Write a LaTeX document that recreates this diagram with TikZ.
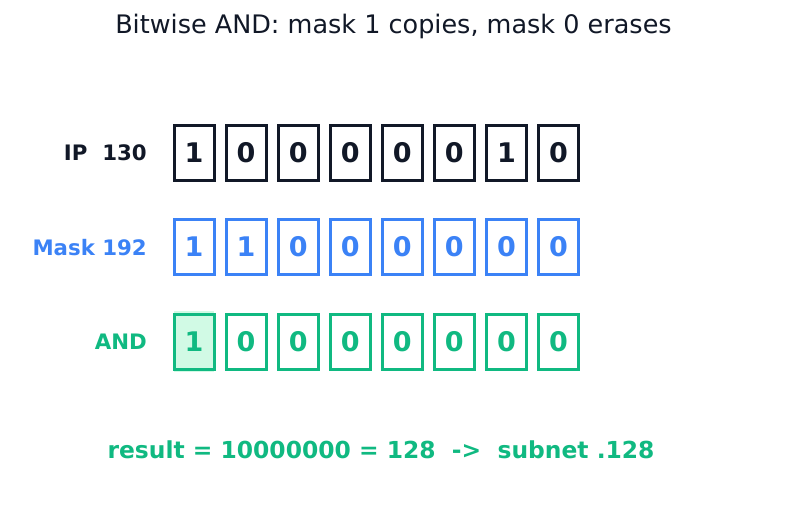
\documentclass[tikz,border=0pt]{standalone}
\usepackage{fontspec}
\setmainfont{DejaVu Sans}
\usepackage{xcolor}
\usetikzlibrary{positioning}
\definecolor{cIp}{RGB}{17,24,39}
\definecolor{cMask}{RGB}{59,130,246}
\definecolor{cAnd}{RGB}{16,185,129}
\definecolor{cAndFill}{RGB}{209,250,229}

\begin{document}
\begin{tikzpicture}[
   x=1pt,y=-1pt,
   bit/.style={draw,line width=3pt,minimum width=40pt,minimum height=55pt,inner sep=0pt,
     font=\fontsize{27}{31}\selectfont\bfseries},
   lbl/.style={anchor=east,inner sep=0pt,font=\fontsize{21.3}{25}\selectfont\bfseries}]
  \useasboundingbox (0,0) rectangle (787,512);
  \node[text=cIp] (title) at (393.5,26) {\fontsize{25.5}{30}\selectfont Bitwise AND: mask 1 copies, mask 0 erases};
  % row labels
  \node[lbl,text=cIp] (lip) at (147,153) {IP\ \ 130};
  \node[lbl,text=cMask] (lmask) at (147,247.5) {Mask 192};
  \node[lbl,text=cAnd] (land) at (147,342) {AND};
  % bit rows
  \foreach \b [count=\i] in {1,0,0,0,0,0,1,0}
    \node[bit,draw=cIp,text=cIp] (ip\i) at (194+52.07*\i-52.07,152.5) {\b};
  \foreach \b [count=\i] in {1,1,0,0,0,0,0,0}
    \node[bit,draw=cMask,text=cMask] (mk\i) at (194+52.07*\i-52.07,247) {\b};
  \foreach \b [count=\i] in {1,0,0,0,0,0,0,0}
    \node[bit,draw=cAnd,text=cAnd] (res\i) at (194+52.07*\i-52.07,341.5) {\b};
  \fill[cAndFill] ([shift={(1.5pt,-1.5pt)}]res1.south west) rectangle ([shift={(-1.5pt,1.5pt)}]res1.north east);
  \node[bit,draw=cAnd,text=cAnd] at (res1) {1};
  % result line
  \node[text=cAnd,font=\fontsize{23.4}{27}\selectfont\bfseries] (sum) at (381,450)
    {result = 10000000 = 128\ \ ->\ \ subnet .128};
\end{tikzpicture}
\end{document}
